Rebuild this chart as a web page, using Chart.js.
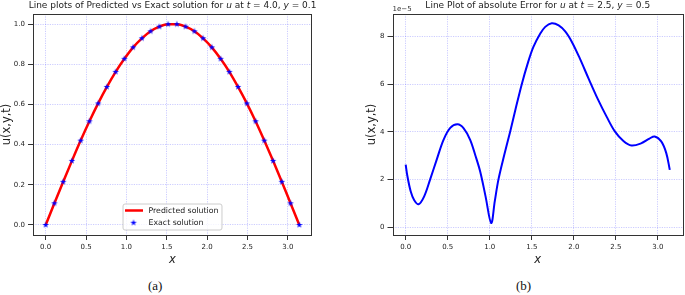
<!DOCTYPE html>
<html>
<head>
<meta charset="utf-8">
<script src="https://cdn.jsdelivr.net/npm/chart.js@4.4.0/dist/chart.umd.min.js"></script>
<style>
  body { margin:0; background:#fff; width:685px; height:295px; position:relative; overflow:hidden; }
  .box { position:absolute; top:0; height:268px; }
  #boxA { left:0; width:340px; }
  #boxB { left:340px; width:345px; }
  .cap { position:absolute; top:278px; font:13px "Liberation Serif", serif; color:#111; line-height:16px; }
</style>
</head>
<body>
<div class="box" id="boxA"><canvas id="chartA"></canvas></div>
<div class="box" id="boxB"><canvas id="chartB"></canvas></div>
<div class="cap" style="left:148px">(a)</div>
<div class="cap" style="left:516px">(b)</div>
<script>
// (a) exact vs predicted u at t=4.0, y=0.1
var xGrid = [0.000,0.108,0.217,0.325,0.433,0.542,0.650,0.758,0.867,0.975,1.083,1.192,1.300,1.408,1.517,
             1.625,1.733,1.842,1.950,2.058,2.167,2.275,2.383,2.492,2.600,2.708,2.817,2.925,3.033,3.142];
var exactU = [0.000,0.108,0.215,0.319,0.420,0.516,0.605,0.687,0.762,0.827,0.884,0.929,0.964,0.987,0.999,
              0.999,0.987,0.964,0.929,0.884,0.827,0.762,0.687,0.605,0.516,0.420,0.319,0.215,0.108,0.000];
var predictedU = [0.000,0.108,0.215,0.319,0.420,0.516,0.605,0.687,0.762,0.827,0.884,0.929,0.964,0.987,0.999,
                  0.999,0.987,0.964,0.929,0.884,0.827,0.762,0.687,0.605,0.516,0.420,0.319,0.215,0.108,0.000];

// (b) absolute error at t=2.5, y=0.5, in units of 1e-5
var xErr = [0,0.02,0.06,0.10,0.154,0.22,0.29,0.37,0.45,0.53,0.617,0.69,0.767,0.83,0.886,0.95,1.017,1.06,1.103,1.17,
            1.242,1.31,1.381,1.45,1.518,1.598,1.66,1.737,1.82,1.90,1.98,2.07,2.18,2.29,2.39,2.488,2.59,2.686,2.80,2.90,
            2.962,3.04,3.10,3.142];
var errE5 = [2.63,2.15,1.5,1.15,0.97,1.3,2.0,2.85,3.67,4.17,4.32,4.15,3.67,3.0,2.34,1.3,0.18,1.1,2.0,3.0,
             4.0,5.0,6.0,6.85,7.55,8.1,8.4,8.55,8.46,8.2,7.75,7.09,6.2,5.34,4.64,4.02,3.62,3.43,3.52,3.72,
             3.81,3.6,3.11,2.41];

var xTicks = [0,0.5,1.0,1.5,2.0,2.5,3.0];
var uTicks = [0,0.2,0.4,0.6,0.8,1.0];
var errTicks = [0,2,4,6,8];

var FONT = '"DejaVu Sans", sans-serif';

function pts(xs, ys) {
  var out = [];
  for (var i = 0; i < xs.length; i++) out.push({x: xs[i], y: ys[i]});
  return out;
}

// filled 5 point star like matplotlib '*'
function starImage(r, color) {
  var c = document.createElement('canvas');
  c.width = c.height = Math.ceil(r * 2) + 1;
  var g = c.getContext('2d');
  var cx = c.width / 2, cy = c.height / 2;
  g.beginPath();
  for (var i = 0; i < 10; i++) {
    var rad = i % 2 ? r * 0.382 : r;
    var a = -Math.PI / 2 + i * Math.PI / 5;
    g.lineTo(cx + rad * Math.cos(a), cy + rad * Math.sin(a));
  }
  g.closePath();
  g.fillStyle = color;
  g.fill();
  return c;
}
var star = starImage(3.4, '#0000ff');

function scaleOpts(min, max, ticks, fmt, title, italic, fitFn) {
  return {
    type: 'linear', min: min, max: max,
    afterBuildTicks: function(s) { s.ticks = ticks.map(function(v){ return {value: v}; }); },
    afterFit: fitFn,
    ticks: { color: '#222', font: {family: FONT, size: 7}, padding: 3,
             callback: fmt, maxRotation: 0, autoSkip: false },
    grid: { color: 'rgba(70,70,255,0.35)', lineWidth: 0.8, tickColor: '#333',
            tickLength: 5, tickWidth: 1, tickBorderDash: [] },
    border: { display: false, dash: [1.2, 1.2] },
    title: { display: true, text: title, color: '#222',
             font: {family: FONT, size: 11.5, style: italic ? 'italic' : 'normal'},
             padding: {top: 0, bottom: 1} }
  };
}

// frame, math title, offset text
function decor(parts, offsetText) {
  return {
    id: 'decor',
    afterDraw: function(chart) {
      var ctx = chart.ctx, a = chart.chartArea;
      ctx.save();
      ctx.strokeStyle = '#333';
      ctx.lineWidth = 1;
      ctx.strokeRect(Math.round(a.left) + 0.5, Math.round(a.top) + 0.5,
                     Math.round(a.right - a.left) - 1, Math.round(a.bottom - a.top));
      var w = 0;
      parts.forEach(function(p) {
        ctx.font = (p[1] ? 'italic ' : '') + '9px ' + FONT;
        w += ctx.measureText(p[0]).width;
      });
      var x = (a.left + a.right) / 2 - w / 2;
      ctx.fillStyle = '#222';
      ctx.textBaseline = 'middle';
      ctx.textAlign = 'left';
      parts.forEach(function(p) {
        ctx.font = (p[1] ? 'italic ' : '') + '9px ' + FONT;
        ctx.fillText(p[0], x, 6);
        x += ctx.measureText(p[0]).width;
      });
      if (offsetText) {
        ctx.font = '7px ' + FONT;
        ctx.fillStyle = '#333';
        ctx.fillText(offsetText, a.left, 9);
      }
      ctx.restore();
    }
  };
}

var legendBox = {
  id: 'legendBox',
  afterDraw: function(chart) {
    var ctx = chart.ctx, a = chart.chartArea, ds = chart.data.datasets;
    ctx.save();
    ctx.font = '7.8px ' + FONT;
    var tw = Math.max(ctx.measureText(ds[0].label).width, ctx.measureText(ds[1].label).width);
    var w = 25 + tw + 4, h = 26;
    var x = (a.left + a.right) / 2 - w / 2, y = a.bottom - 5 - h, r = 2;
    ctx.beginPath();
    ctx.moveTo(x + r, y);
    ctx.arcTo(x + w, y, x + w, y + h, r);
    ctx.arcTo(x + w, y + h, x, y + h, r);
    ctx.arcTo(x, y + h, x, y, r);
    ctx.arcTo(x, y, x + w, y, r);
    ctx.closePath();
    ctx.fillStyle = 'rgba(255,255,255,0.8)';
    ctx.fill();
    ctx.strokeStyle = '#cccccc';
    ctx.lineWidth = 1;
    ctx.stroke();
    ctx.strokeStyle = ds[0].borderColor;
    ctx.lineWidth = 2.5;
    ctx.beginPath();
    ctx.moveTo(x + 2, y + 6.5);
    ctx.lineTo(x + 20, y + 6.5);
    ctx.stroke();
    ctx.drawImage(star, x + 10.5 - star.width / 2, y + 18.7 - star.height / 2);
    ctx.fillStyle = '#222';
    ctx.textBaseline = 'middle';
    ctx.fillText(ds[0].label, x + 25.5, y + 6.5);
    ctx.fillText(ds[1].label, x + 25.5, y + 18.7);
    ctx.restore();
  }
};

var fmt1 = function(v) { return v.toFixed(1); };
var fmt0 = function(v) { return v.toFixed(0); };

new Chart(document.getElementById('chartA'), {
  type: 'line',
  data: {
    datasets: [
      { label: 'Predicted solution', data: pts(xGrid, predictedU), borderColor: '#ff0000',
        borderWidth: 2.5, pointRadius: 0, cubicInterpolationMode: 'monotone', order: 2 },
      { label: 'Exact solution', data: pts(xGrid, exactU), showLine: false,
        pointStyle: star, pointRadius: 3, borderColor: '#0000ff', backgroundColor: '#0000ff', order: 1 }
    ]
  },
  options: {
    responsive: true, maintainAspectRatio: false, animation: false,
    layout: { padding: {left: 0, right: 28, top: 14, bottom: 0} },
    plugins: { legend: {display: false}, tooltip: {enabled: false}, title: {display: false} },
    scales: {
      x: scaleOpts(-0.157, 3.299, xTicks, fmt1, 'x', true, function(s){ s.height = 33; }),
      y: scaleOpts(-0.05, 1.05, uTicks, fmt1, 'u(x,y,t)', false, function(s){ s.width = 33; })
    }
  },
  plugins: [decor([['Line plots of Predicted vs Exact solution for ', false], ['u', true], [' at ', false],
                   ['t', true], [' = 4.0, ', false], ['y', true], [' = 0.1', false]]), legendBox]
});

new Chart(document.getElementById('chartB'), {
  type: 'line',
  data: {
    datasets: [
      { label: 'Absolute error', data: pts(xErr, errE5), borderColor: '#0000ff',
        borderWidth: 2, pointRadius: 0, tension: 0.35 }
    ]
  },
  options: {
    responsive: true, maintainAspectRatio: false, animation: false,
    layout: { padding: {left: 25, right: 2, top: 14, bottom: 0} },
    plugins: { legend: {display: false}, tooltip: {enabled: false}, title: {display: false} },
    scales: {
      x: scaleOpts(-0.157, 3.299, xTicks, fmt1, 'x', true, function(s){ s.height = 33; }),
      y: scaleOpts(-0.32, 8.94, errTicks, fmt0, 'u(x,y,t)', false, function(s){ s.width = 27.5; })
    }
  },
  plugins: [decor([['Line Plot of absolute Error for ', false], ['u', true], [' at ', false],
                   ['t', true], [' = 2.5, ', false], ['y', true], [' = 0.5', false]], '1e\u22125')]
});
</script>
</body>
</html>
